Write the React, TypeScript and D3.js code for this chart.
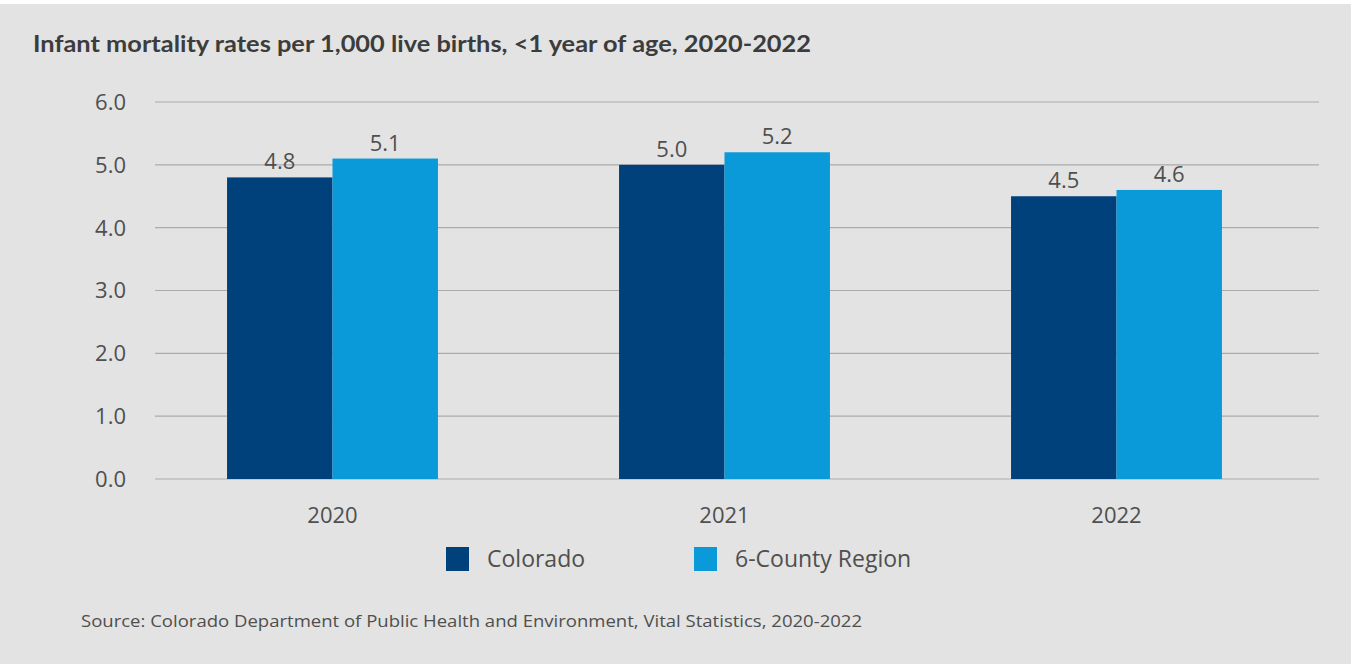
import React from "react";
import * as d3 from "d3";

const years = ["2020", "2021", "2022"];
const seriesNames = ["Colorado", "6-County Region"];
const colorado = [4.8, 5.0, 4.5];
const region = [5.1, 5.2, 4.6];
const yTicks = [0, 1, 2, 3, 4, 5, 6];
const colors = ["#00417c", "#0a9ad9"];
const title = "Infant mortality rates per 1,000 live births, <1 year of age, 2020-2022";
const source = "Source: Colorado Department of Public Health and Environment, Vital Statistics, 2020-2022";

const W = 1351;
const H = 664;

export default function App() {
  const x = d3.scaleBand<string>().domain(years).range([136.5, 1312.5]).paddingInner(0.462).paddingOuter(0.231);
  const xs = d3.scaleBand<string>().domain(seriesNames).range([0, x.bandwidth()]);
  const y = d3.scaleLinear().domain([0, 6]).range([479, 102]);
  const series = [colorado, region];
  const font = "'Open Sans', 'Noto Sans', sans-serif";
  const textColor = "#4f4f4f";
  return (
    <svg width={W} height={H} style={{ display: "block", position: "absolute", left: 0, top: 0 }}>
      <rect x={0} y={0} width={W} height={H} fill="#ffffff" />
      <rect x={0} y={4} width={W} height={H - 4} fill="#e2e3e2" />
      <text x={33} y={52} fontFamily="Lato, sans-serif" fontWeight={700} fontSize={22.5} fill="#3c3c3c"
        textLength={778} lengthAdjust="spacingAndGlyphs">{title}</text>
      {yTicks.map((t) => (
        <g key={t}>
          <line x1={155} x2={1319} y1={y(t)} y2={y(t)} stroke="#ababab" strokeWidth={1.2} />
          <text x={126} y={y(t)} dy="0.36em" textAnchor="end" fontFamily={font} fontSize={22} fill={textColor}>
            {d3.format(".1f")(t)}
          </text>
        </g>
      ))}
      {years.map((yr, i) => (
        <g key={yr}>
          {series.map((vals, s) => {
            const bx = (x(yr) as number) + (xs(seriesNames[s]) as number);
            const bw = xs.bandwidth();
            return (
              <g key={s}>
                <rect x={bx} y={y(vals[i])} width={bw} height={y(0) - y(vals[i])} fill={colors[s]} />
                <text x={bx + bw / 2} y={y(vals[i]) - 8} textAnchor="middle" fontFamily={font} fontSize={22} fill={textColor}>
                  {d3.format(".1f")(vals[i])}
                </text>
              </g>
            );
          })}
          <text x={(x(yr) as number) + x.bandwidth() / 2} y={523} textAnchor="middle" fontFamily={font} fontSize={22} fill={textColor}>
            {yr}
          </text>
        </g>
      ))}
      {seriesNames.map((n, s) => {
        const lx = [446, 694][s];
        return (
          <g key={n}>
            <rect x={lx} y={547} width={23} height={24} fill={colors[s]} />
            <text x={lx + 41} y={567} fontFamily={font} fontSize={23} fill={textColor}>{n}</text>
          </g>
        );
      })}
      <text x={81} y={627} fontFamily={font} fontSize={15.5} fill={textColor} textLength={781} lengthAdjust="spacingAndGlyphs">
        {source}
      </text>
    </svg>
  );
}
